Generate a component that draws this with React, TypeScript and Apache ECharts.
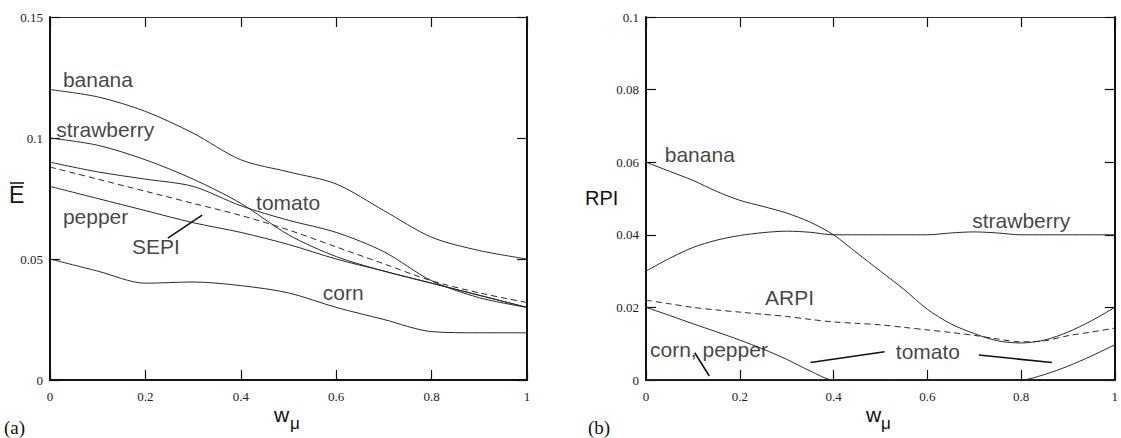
import React, { useEffect, useRef } from "react";
import * as echarts from "echarts";

// ---------- Data ----------
// Panel (a): E-bar vs w_mu, sampled every 0.1
const wA = [0, 0.1, 0.2, 0.3, 0.4, 0.5, 0.6, 0.7, 0.8, 0.9, 1];
const bananaA = [0.12, 0.117, 0.111, 0.102, 0.091, 0.086, 0.081, 0.07, 0.059, 0.0535, 0.05];
const strawberryA = [0.1, 0.097, 0.091, 0.083, 0.073, 0.06, 0.051, 0.045, 0.04, 0.035, 0.03];
const tomatoA = [0.09, 0.086, 0.083, 0.08, 0.072, 0.066, 0.061, 0.053, 0.041, 0.034, 0.03];
const pepperA = [0.08, 0.075, 0.07, 0.065, 0.061, 0.056, 0.05, 0.045, 0.04, 0.035, 0.03];
const sepiA = [0.088, 0.083, 0.078, 0.073, 0.068, 0.062, 0.055, 0.048, 0.041, 0.036, 0.032];
const cornA = [0.05, 0.045, 0.04, 0.0405, 0.039, 0.036, 0.03, 0.025, 0.02, 0.0195, 0.0195];

// Panel (b): RPI vs w_mu, sampled every 0.05
const wB = [0, 0.05, 0.1, 0.15, 0.2, 0.25, 0.3, 0.35, 0.4, 0.45, 0.5, 0.55, 0.6, 0.65, 0.7, 0.75, 0.8, 0.85, 0.9, 0.95, 1];
const bananaB = [0.06, 0.0575, 0.055, 0.052, 0.0495, 0.0478, 0.046, 0.0435, 0.04, 0.035, 0.03, 0.025, 0.0195, 0.0155, 0.0128, 0.0108, 0.0102, 0.011, 0.0132, 0.0163, 0.02];
const strawberryB = [0.03, 0.0335, 0.0365, 0.0385, 0.0398, 0.0406, 0.041, 0.0407, 0.04, 0.04, 0.04, 0.04, 0.04, 0.0405, 0.0408, 0.0405, 0.04, 0.04, 0.04, 0.04, 0.04];
const arpiB = [0.022, 0.021, 0.02, 0.0193, 0.0187, 0.0181, 0.0175, 0.0167, 0.016, 0.0156, 0.0152, 0.0145, 0.0138, 0.0131, 0.0123, 0.0113, 0.0105, 0.0108, 0.0122, 0.0132, 0.0143];
const tomatoB = [0.02, 0.0178, 0.0155, 0.0133, 0.011, 0.0085, 0.0057, 0.0025, 0, 0, 0, 0, 0, 0, 0, 0, 0, 0.0015, 0.0038, 0.0066, 0.0097];
const cornB = [0, 0, 0, 0, 0, 0, 0, 0, 0, 0, 0, 0, 0, 0, 0, 0, 0, 0, 0, 0, 0];
const pepperB = [0, 0, 0, 0, 0, 0, 0, 0, 0, 0, 0, 0, 0, 0, 0, 0, 0, 0, 0, 0, 0];

// Annotations: [w, value, text] (text anchored left, vertically centred)
const labelsA: [number, number, string][] = [
  [0.027, 0.124, "banana"],
  [0.013, 0.1035, "strawberry"],
  [0.432, 0.0735, "tomato"],
  [0.027, 0.0677, "pepper"],
  [0.172, 0.055, "SEPI"],
  [0.572, 0.0363, "corn"],
];
const leadersA: [number, number][][] = [
  [[0.247, 0.0586], [0.319, 0.0681]],
];
const labelsB: [number, number, string][] = [
  [0.04, 0.062, "banana"],
  [0.696, 0.044, "strawberry"],
  [0.254, 0.0227, "ARPI"],
  [0.0085, 0.0083, "corn, pepper"],
  [0.533, 0.0078, "tomato"],
];
const leadersB: [number, number][][] = [
  [[0.104, 0.0075], [0.135, 0.0011]],
  [[0.351, 0.0048], [0.509, 0.0078]],
  [[0.71, 0.0069], [0.866, 0.0048]],
];

// ---------- Helpers ----------
const LINE = "#2a2a2a";
const zip = (xs: number[], ys: number[]) => xs.map((x, i) => [x, ys[i]]);

function curve(name: string, xs: number[], ys: number[], axis: number, dashed = false) {
  return {
    name,
    type: "line",
    xAxisIndex: axis,
    yAxisIndex: axis,
    data: zip(xs, ys),
    smooth: 0.3,
    showSymbol: false,
    symbol: "none",
    silent: true,
    lineStyle: { color: LINE, width: 1, type: dashed ? [6, 4] : "solid" },
    z: 3,
  };
}

function labelSeries(items: [number, number, string][], axis: number) {
  return {
    type: "scatter",
    xAxisIndex: axis,
    yAxisIndex: axis,
    symbolSize: 0,
    silent: true,
    data: items.map(([x, y, t]) => ({ value: [x, y], name: t })),
    label: {
      show: true,
      position: "right",
      distance: 0,
      formatter: (p: any) => p.name,
      fontFamily: "Liberation Sans, Arial, sans-serif",
      fontSize: 21,
      color: "#111",
    },
    z: 5,
  };
}

function leaderSeries(segs: [number, number][][], axis: number) {
  return segs.map((s) => ({
    type: "line",
    xAxisIndex: axis,
    yAxisIndex: axis,
    data: s,
    showSymbol: false,
    symbol: "none",
    silent: true,
    lineStyle: { color: "#111", width: 1.6 },
    z: 4,
  }));
}

const axisLine = { show: true, onZero: false, lineStyle: { color: "#111", width: 2 } };
const tickStyle = { show: true, inside: true, length: 10, lineStyle: { color: "#111", width: 1.2 } };
const tickFont = { fontFamily: "Liberation Serif, Times New Roman, serif", fontSize: 13, color: "#222" };

function xAxes(grid: number) {
  return [
    {
      type: "value", gridIndex: grid, min: 0, max: 1, interval: 0.2, position: "bottom",
      axisLine, axisTick: tickStyle, splitLine: { show: false },
      axisLabel: { ...tickFont, margin: 10, formatter: (v: number) => String(+v.toFixed(2)) },
    },
    {
      type: "value", gridIndex: grid, min: 0, max: 1, interval: 0.2, position: "top",
      axisLine: { ...axisLine, lineStyle: { color: "#333", width: 1 } }, axisTick: tickStyle, splitLine: { show: false },
      axisLabel: { show: false },
    },
  ];
}

function yAxes(grid: number, max: number, interval: number) {
  return [
    {
      type: "value", gridIndex: grid, min: 0, max, interval, position: "left",
      axisLine, axisTick: tickStyle, splitLine: { show: false },
      axisLabel: { ...tickFont, margin: 7, formatter: (v: number) => String(+v.toFixed(3)) },
    },
    {
      type: "value", gridIndex: grid, min: 0, max, interval, position: "right",
      axisLine, axisTick: tickStyle, splitLine: { show: false },
      axisLabel: { show: false },
    },
  ];
}

export default function App() {
  const ref = useRef<HTMLDivElement>(null);
  useEffect(() => {
    const chart = echarts.init(ref.current!, null, { renderer: "svg" });
    const xa = [...xAxes(0), ...xAxes(1)];
    const ya = [...yAxes(0, 0.15, 0.05), ...yAxes(1, 0.1, 0.02)];
    const sansBig = { fontFamily: "Liberation Sans, Arial, sans-serif", fill: "#111" };
    const serif = { fontFamily: "Liberation Serif, Times New Roman, serif", fill: "#111" };
    chart.setOption({
      animation: false,
      backgroundColor: "#fff",
      grid: [
        { left: 50, top: 17, width: 477, height: 363 },
        { left: 646, top: 17, width: 473, height: 363 },
      ],
      xAxis: xa,
      yAxis: ya,
      series: [
        curve("banana", wA, bananaA, 0),
        curve("strawberry", wA, strawberryA, 0),
        curve("tomato", wA, tomatoA, 0),
        curve("pepper", wA, pepperA, 0),
        curve("SEPI", wA, sepiA, 0, true),
        curve("corn", wA, cornA, 0),
        curve("banana", wB, bananaB, 2),
        curve("strawberry", wB, strawberryB, 2),
        curve("ARPI", wB, arpiB, 2, true),
        curve("tomato", wB, tomatoB, 2),
        curve("corn", wB, cornB, 2),
        curve("pepper", wB, pepperB, 2),
        labelSeries(labelsA, 0),
        labelSeries(labelsB, 2),
        ...leaderSeries(leadersA, 0),
        ...leaderSeries(leadersB, 2),
      ],
      graphic: [
        { type: "text", left: 9, top: 183, style: { ...sansBig, text: "E", fontSize: 23 } },
        { type: "line", shape: { x1: 10, y1: 183, x2: 24, y2: 183 }, style: { stroke: "#111", lineWidth: 1.5 } },
        { type: "text", left: 585, top: 188, style: { ...sansBig, text: "RPI", fontSize: 20 } },
        { type: "text", left: 274, top: 404, style: { ...sansBig, text: "w", fontSize: 21 } },
        { type: "text", left: 290, top: 415, style: { ...sansBig, text: "\u03bc", fontSize: 17 } },
        { type: "text", left: 866, top: 404, style: { ...sansBig, text: "w", fontSize: 21 } },
        { type: "text", left: 881, top: 415, style: { ...sansBig, text: "\u03bc", fontSize: 17 } },
        { type: "text", left: 4, top: 418, style: { ...serif, text: "(a)", fontSize: 19 } },
        { type: "text", left: 588, top: 418, style: { ...serif, text: "(b)", fontSize: 19 } },
      ],
    });
    return () => chart.dispose();
  }, []);
  return (
    <div
      ref={ref}
      style={{ position: "fixed", left: 0, top: 0, width: 1121, height: 438, background: "#fff" }}
    />
  );
}
